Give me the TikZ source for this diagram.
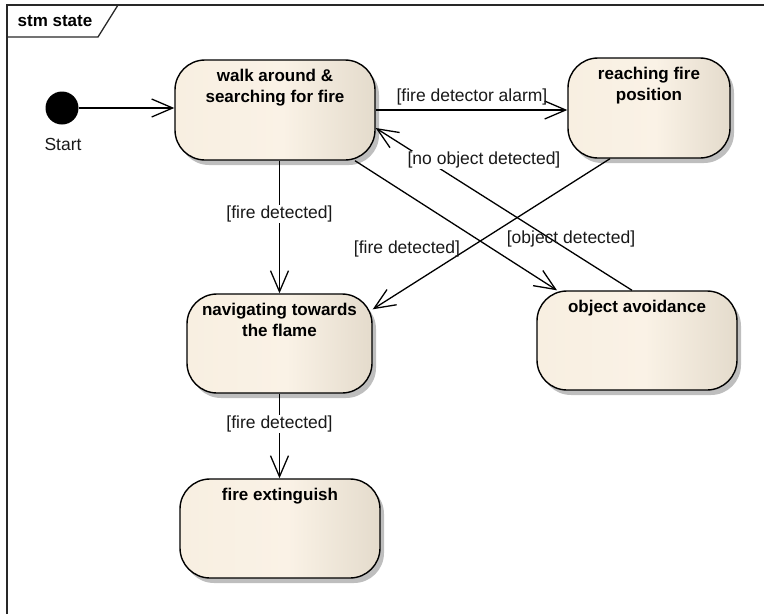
\documentclass[tikz,border=0pt]{standalone}
\usepackage{fontspec}
\setmainfont{Liberation Sans}
\usetikzlibrary{arrows.meta,shadows}
\definecolor{stL}{RGB}{248,239,225}
\definecolor{stM}{RGB}{250,242,230}
\definecolor{stR}{RGB}{228,219,204}
\definecolor{shd}{RGB}{190,190,190}
\definecolor{framecol}{RGB}{40,40,40}
\pgfdeclarehorizontalshading{stateshade}{100bp}{color(0bp)=(stL); color(25bp)=(stL); color(52bp)=(stM); color(75bp)=(stR); color(100bp)=(stR)}
\tikzset{
  statebox/.style={draw=black, line width=1.4pt, rounded corners=30pt, shading=stateshade,
    general shadow={fill=shd, shadow xshift=4pt, shadow yshift=-5pt}},
  titletext/.style={anchor=north, inner sep=0pt, align=center, font=\fontsize{17}{21}\selectfont\bfseries},
  lab/.style={inner sep=1pt, font=\fontsize{17.5}{21}\selectfont, text=black!90},
  labw/.style={lab, fill=white},
  arr/.style={line width=1.3pt, -{Straight Barb[length=21pt,width=18pt,line width=1.3pt]}},
  framel/.style={line width=1.3pt, draw=framecol}
}
\begin{document}
\begin{tikzpicture}[x=1pt,y=-1pt]
\useasboundingbox (0,0) rectangle (764,614);
% frame
\draw[framel] (7,614) -- (7,5) -- (764,5);
\draw[framel] (7,37) -- (98,37) -- (118,5);
\node[inner sep=0pt, font=\fontsize{17}{21}\selectfont\bfseries] (tab) at (55,21) {stm state};
% start
\node[circle, fill=black, minimum size=33pt, inner sep=0pt] (start) at (62,108) {};
\node[lab] (startlbl) at (63,144) {Start};
% states
\node[statebox, minimum width=200pt, minimum height=100pt] (walk) at (275,110) {};
\node[statebox, minimum width=162pt, minimum height=100pt] (reach) at (649,108) {};
\node[statebox, minimum width=200pt, minimum height=99pt] (obj) at (637,340.5) {};
\node[statebox, minimum width=185pt, minimum height=99pt] (nav) at (279.5,343.5) {};
\node[statebox, minimum width=200pt, minimum height=99pt] (ext) at (280,528.5) {};
\node[titletext] (walkt) at ([yshift=-10pt]walk.north) {walk around \&\\searching for fire};
\node[titletext] (reacht) at ([yshift=-10pt]reach.north) {reaching fire\\position};
\node[titletext] (objt) at ([yshift=-10pt]obj.north) {object avoidance};
\node[titletext] (navt) at ([yshift=-10pt]nav.north) {navigating towards\\the flame};
\node[titletext] (extt) at ([yshift=-10pt]ext.north) {fire extinguish};
% connectors
\draw[arr] (start) -- (start -| walk.west);
\draw[arr] (walk.east) -- (walk.east -| reach.west);
\draw[arr] (walk.south -| nav.north) -- (nav.north) node[labw, pos=0.40] (l0) {[fire detected]};
\draw[arr] ([xshift=80pt]walk.south) -- ([xshift=-80pt]obj.north);
\draw[arr] ([xshift=-5pt]obj.north) -- ([yshift=-18pt]walk.east);
\draw[arr] ([xshift=-39pt]reach.south) -- ([yshift=-16pt]nav.north east);
\draw[arr] (nav.south) -- (nav.south |- ext.north) node[labw, pos=0.36] (l5) {[fire detected]};
% labels
\node[lab] (l1) at (472,97) {[fire detector alarm]};
\node[labw] (l2) at (484,160) {[no object detected]};
\node[lab] (l3) at (571,239) {[object detected]};
\node[lab] (l4) at (407,249) {[fire detected]};
\end{tikzpicture}
\end{document}
